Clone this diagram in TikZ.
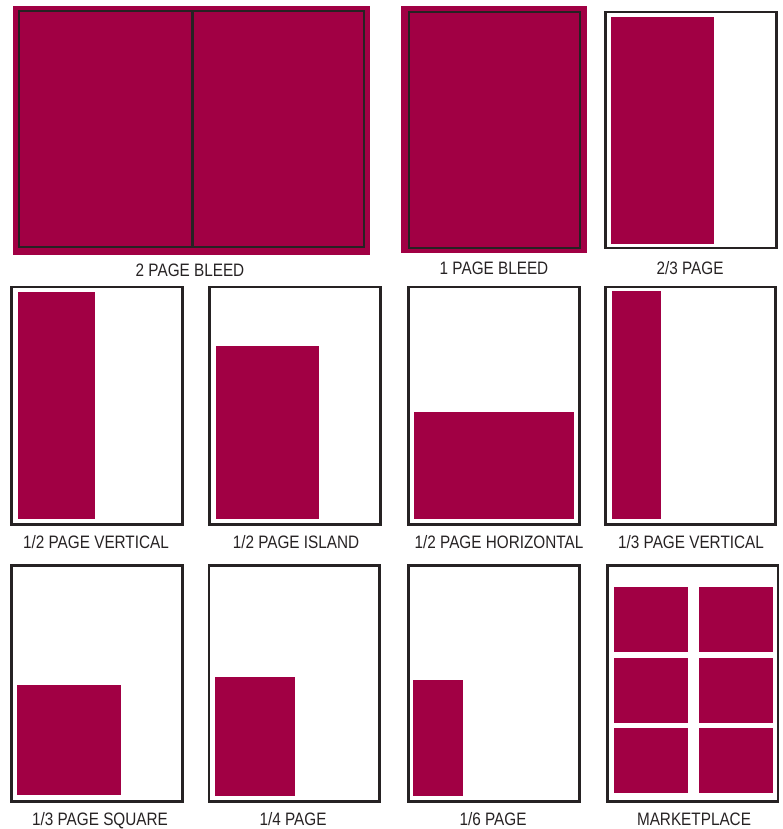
\documentclass[tikz,border=0pt]{standalone}
\usepackage{fontspec}
\setmainfont[FakeStretch=0.85]{Liberation Sans}
\definecolor{adred}{RGB}{161,0,68}
\definecolor{framegray}{RGB}{38,34,35}
\tikzset{
  ad/.style={fill=adred,draw=none},
  pageframe/.style={draw=framegray,line width=2.6pt},
  lbl/.style={anchor=base,inner sep=0pt,font=\fontsize{18}{20}\selectfont,text=framegray}
}
\begin{document}
\begin{tikzpicture}[x=1pt,y=-1pt]
\useasboundingbox (0,0) rectangle (783,829);
% Row 1
\fill[ad] (13,6) rectangle (370,255);
\draw[pageframe] (19,11) rectangle (364,247);
\draw[pageframe] (192.5,11) -- (192.5,247);
\node[lbl] (l1) at (190,276.5) {2 PAGE BLEED};

\fill[ad] (401,6) rectangle (587,253);
\draw[pageframe] (409,12) rectangle (580,248);
\node[lbl] (l2) at (494,274) {1 PAGE BLEED};

\draw[pageframe] (605.5,12) rectangle (776.5,248);
\fill[ad] (611,17) rectangle (714,244);
\node[lbl] (l3) at (690,274) {2/3 PAGE};

% Row 2
\draw[pageframe] (11.3,287) rectangle (182.7,524.5);
\fill[ad] (18,292) rectangle (95,519);
\node[lbl] (l4) at (96,548) {1/2 PAGE VERTICAL};

\draw[pageframe] (209.6,287) rectangle (380.3,524.5);
\fill[ad] (216,346) rectangle (319,519);
\node[lbl] (l5) at (296,548) {1/2 PAGE ISLAND};

\draw[pageframe] (408.7,287) rectangle (579.3,524.5);
\fill[ad] (414,412) rectangle (574,519);
\node[lbl] (l6) at (499,548) {1/2 PAGE HORIZONTAL};

\draw[pageframe] (605.7,287) rectangle (775.3,524.5);
\fill[ad] (612,291) rectangle (661,519);
\node[lbl] (l7) at (691,548) {1/3 PAGE VERTICAL};

% Row 3
\draw[pageframe] (11.3,565.3) rectangle (182.3,801.3);
\fill[ad] (17,685) rectangle (121,795);
\node[lbl] (l8) at (100,825.5) {1/3 PAGE SQUARE};

\draw[pageframe] (209,565.3) rectangle (379.7,801.3);
\fill[ad] (215,677) rectangle (295,796);
\node[lbl] (l9) at (293,825.5) {1/4 PAGE};

\draw[pageframe] (408.7,565.3) rectangle (579.7,801.3);
\fill[ad] (413,680) rectangle (463,796);
\node[lbl] (l10) at (493,825.5) {1/6 PAGE};

\draw[pageframe] (607.7,565.3) rectangle (778,801.3);
\foreach \ya/\yb in {587/652,658/723,728/793}{
  \fill[ad] (614,\ya) rectangle (688,\yb);
  \fill[ad] (699,\ya) rectangle (773,\yb);
}
\node[lbl] (l11) at (694,825.5) {MARKETPLACE};
\end{tikzpicture}
\end{document}
